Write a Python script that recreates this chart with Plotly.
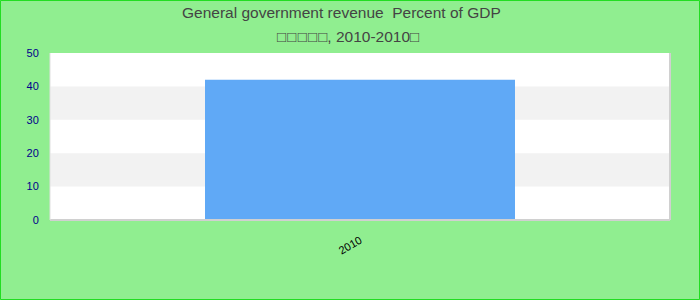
import plotly.graph_objects as go

categories = ["2010"]
values = [42]
y_ticks = [0, 10, 20, 30, 40, 50]
title_line1 = "General government revenue\u00a0 Percent of GDP"
title_boxes = "\u25a1\u200a\u25a1\u200a\u25a1\u200a\u25a1\u200a\u25a1"
title_line2_rest = ", 2010-2010"
title_end = "\u25a1"

W, H = 700, 300
ml, mr, mt, mb = 50, 30, 53, 80
pw, ph = W - ml - mr, H - mt - mb

fig = go.Figure()
fig.add_trace(go.Bar(x=categories, y=values, marker=dict(color="#60A9F6", line=dict(width=0)), width=0.5))

shapes = []
for i in range(0, len(y_ticks) - 1):
    if i % 2 == 1:
        shapes.append(dict(type="rect", xref="paper", yref="y", x0=0, x1=1,
                           y0=y_ticks[i], y1=y_ticks[i + 1], fillcolor="#f2f2f2",
                           line=dict(width=0), layer="below"))
shapes.append(dict(type="line", xref="paper", yref="paper", x0=0, x1=1, y0=0, y1=0,
                   line=dict(color="#d0d0d0", width=2), layer="above"))
shapes.append(dict(type="line", xref="paper", yref="paper", x0=1, x1=1, y0=0, y1=1,
                   line=dict(color="#d0d0d0", width=2), layer="above"))
shapes.append(dict(type="line", xref="paper", yref="paper", x0=0, x1=0, y0=0, y1=1,
                   line=dict(color="#e0e0e0", width=1), layer="above"))
shapes.append(dict(type="rect", xref="paper", yref="paper",
                   x0=(-ml + 0.5) / pw, x1=1 + (mr - 0.5) / pw,
                   y0=(-mb + 0.5) / ph, y1=1 + (mt - 0.5) / ph,
                   line=dict(color="#22dd22", width=1), fillcolor="rgba(0,0,0,0)"))


def px_x(x):
    return (x - ml) / pw


def px_y(y):
    return 1 - (y - mt) / ph


line2 = ('<span style="font-size:15px">' + title_boxes + '</span>' + title_line2_rest +
         '<span style="font-size:15px">' + title_end + '</span>')

annotations = [
    dict(text=title_line1, xref="paper", yref="paper", x=px_x(341), y=px_y(13),
         xanchor="center", yanchor="middle", showarrow=False,
         font=dict(size=15.5, color="#444444")),
    dict(text=line2, xref="paper", yref="paper", x=px_x(348), y=px_y(36),
         xanchor="center", yanchor="middle", showarrow=False,
         font=dict(size=15.5, color="#444444")),
]

fig.update_layout(
    width=W, height=H,
    margin=dict(l=ml, r=mr, t=mt, b=mb, pad=0),
    paper_bgcolor="#90EE90",
    plot_bgcolor="#ffffff",
    font=dict(family="Liberation Sans, Arial, sans-serif"),
    showlegend=False,
    shapes=shapes,
    annotations=annotations,
    xaxis=dict(type="category", showgrid=False, zeroline=False, showline=False,
               tickangle=-30, tickfont=dict(size=11, color="#000000"),
               ticks="outside", ticklen=9, tickcolor="rgba(0,0,0,0)"),
    yaxis=dict(range=[0, 50], tickvals=y_ticks, showgrid=False, zeroline=False,
               showline=False, ticks="outside", ticklen=8, tickcolor="rgba(0,0,0,0)",
               tickfont=dict(size=11, color="#00008B")),
)

fig.write_html("out.html")
